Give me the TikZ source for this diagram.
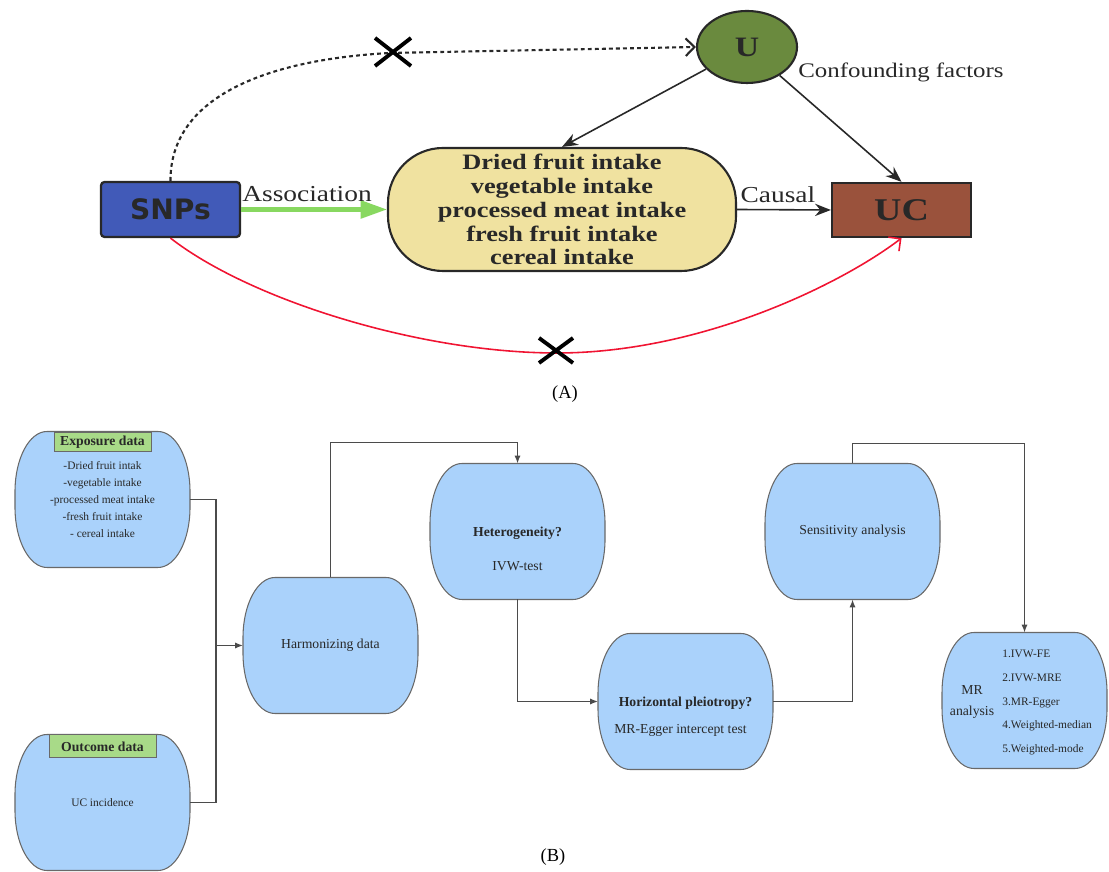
\documentclass[tikz,border=0pt]{standalone}
\usepackage{fontspec}
\setmainfont{Liberation Serif}
\newfontfamily\wideserif[FakeStretch=1.2]{Liberation Serif}
\newfontfamily\snpsfont{DejaVu Sans}
\usetikzlibrary{arrows.meta,shapes.geometric,backgrounds}

\definecolor{ink}{RGB}{40,40,40}
\definecolor{snpsblue}{RGB}{65,90,184}
\definecolor{ufill}{RGB}{106,138,62}
\definecolor{ucfill}{RGB}{154,82,60}
\definecolor{expfill}{RGB}{240,226,160}
\definecolor{assocgreen}{RGB}{136,216,96}
\definecolor{linkred}{RGB}{240,20,50}
\definecolor{boxblue}{RGB}{170,210,251}
\definecolor{boxline}{RGB}{105,105,105}
\definecolor{tagfill}{RGB}{168,218,136}
\definecolor{linkgray}{RGB}{75,75,75}

\newcommand{\stadium}[1]{%
  \filldraw[blobline] ([xshift=6.4mm]#1.north west) -- ([xshift=-6.4mm]#1.north east)
    arc[start angle=90,end angle=0,x radius=6.4mm,y radius=12mm]
    -- ([yshift=12mm]#1.south east)
    arc[start angle=0,end angle=-90,x radius=6.4mm,y radius=12mm]
    -- ([xshift=6.4mm]#1.south west)
    arc[start angle=270,end angle=180,x radius=6.4mm,y radius=12mm]
    -- ([yshift=-12mm]#1.north west)
    arc[start angle=180,end angle=90,x radius=6.4mm,y radius=12mm] -- cycle;}

\begin{document}
\begin{tikzpicture}[x=0.2mm,y=0.2mm,font=\fontsize{7.8}{9.5}\selectfont,
    blob/.style={minimum width=35mm,minimum height=27.2mm,inner sep=0pt,outer sep=0pt,align=center,text=ink},
    blobline/.style={fill=boxblue,draw=boxline,line width=0.6pt},
    tag/.style={draw=boxline,fill=tagfill,line width=0.5pt,inner sep=0pt,font=\bfseries\fontsize{7.8}{9}\selectfont,text=ink},
    small/.style={font=\fontsize{6.5}{9.8}\selectfont},
    link/.style={draw=linkgray,line width=0.7pt},
    tip/.style={-{Latex[length=4.5pt,width=3.5pt]}},
    dark/.style={ink,line width=0.9pt,-{Stealth[length=9pt,width=7pt]}},
    barb/.style={-{Straight Barb[length=5pt,width=10pt]}},
    wide/.style={font=\wideserif\fontsize{13}{14}\selectfont,text=ink}]
    \useasboundingbox (0,0) rectangle (1109,872);

    \node[draw=ink,line width=1.3pt,fill=snpsblue,rounded corners=2pt,minimum width=27.8mm,minimum height=11mm,
          font=\snpsfont\bfseries\fontsize{16}{16}\selectfont,text=ink] (snps) at (170.5,662.5) {SNPs};
    \node[draw=ink,line width=1.2pt,fill=expfill,rounded corners=11mm,minimum width=69.6mm,minimum height=24.6mm,
          inner sep=0pt,align=center,font=\wideserif\bfseries\fontsize{12.5}{13.6}\selectfont,text=ink] (exp) at (562,662.5)
          {Dried fruit intake\\vegetable intake\\processed meat intake\\fresh fruit intake\\cereal intake};
    \node[ellipse,draw=ink,line width=1.2pt,fill=ufill,minimum width=20mm,minimum height=14.4mm,inner sep=0pt,
          font=\wideserif\bfseries\fontsize{16}{16}\selectfont,text=ink] (u) at (747,825) {U};
    \node[draw=ink,line width=1.3pt,fill=ucfill,minimum width=27.8mm,minimum height=10.8mm,
          font=\wideserif\bfseries\fontsize{18}{18}\selectfont,text=ink] (uc) at (901.5,662) {UC};
    \node[wide,font=\wideserif\fontsize{11.8}{12}\selectfont] (conf) at (901,800) {Confounding factors};

    \draw[assocgreen,line width=2.3pt,-{Triangle[length=15pt,width=10pt]}] (snps.east) -- node[wide,above,xshift=-1.4mm] (assoc) {Association} (exp.west);
    \draw[dark] (exp.east) -- node[wide,above,xshift=-1.2mm] (causal) {Causal} (uc.west);
    \draw[dark] (u) -- (exp.north);
    \draw[dark] (u) -- (uc.north);

    \draw[ink,line width=1.2pt,dash pattern=on 2.2pt off 1.8pt,barb] (snps.north) .. controls (170,772) and (260,812) .. (390,819) -- (u.west);
    \draw[linkred,line width=0.9pt,barb] (snps.south) .. controls (250,572) and (420,519) .. (557,519)
        .. controls (700,519) and (840,587) .. (uc.south);
    \draw[line width=2.2pt] (375,834) -- (411,806) (375,806) -- (411,834);
    \draw[line width=2.2pt] (539,534) -- (573,509) (539,509) -- (573,534);

    \node[font=\fontsize{10.5}{12}\selectfont] (capa) at (565,478) {(A)};

    \node[blob,small] (expo) at (102.5,372.5) {-Dried fruit intak\\-vegetable intake\\-processed meat intake\\-fresh fruit intake\\- cereal intake};
    \node[blob,small] (outc) at (102.5,69.5) {UC incidence};
    \node[blob] (harm) at (330.5,226.5) {Harmonizing data};
    \node[blob] (hetero) at (517.5,340.5) {};
    \node[blob] (pleio) at (685.5,170.5) {};
    \node[blob] (sens) at (852.5,340.5) {Sensitivity analysis};
    \node[blob,minimum width=33mm] (mr) at (1024.5,171.5) {};
    \begin{scope}[on background layer]
        \foreach \b in {expo,outc,harm,hetero,pleio,sens,mr} {\stadium{\b}}
    \end{scope}

    \node[tag,minimum width=19.4mm,minimum height=3.8mm,anchor=north] (expotag) at ([yshift=-0.2mm]expo.north) {Exposure data};
    \node[tag,minimum width=21.4mm,minimum height=4.6mm,anchor=north] (outctag) at (outc.north) {Outcome data};
    \node[text=ink,font=\bfseries\fontsize{7.8}{9.5}\selectfont] (heteroq) at ([yshift=-0.3mm]hetero.center) {Heterogeneity?};
    \node[text=ink] (ivw) at ([yshift=-6.9mm]hetero.center) {IVW-test};
    \node[text=ink,font=\bfseries\fontsize{7.8}{9.5}\selectfont] (pleioq) at ([yshift=-0.3mm]pleio.center) {Horizontal pleiotropy?};
    \node[text=ink] (egger) at ([xshift=-1mm,yshift=-5.7mm]pleio.center) {MR-Egger intercept test};
    \node[text=ink,align=center,font=\fontsize{7.8}{11.5}\selectfont] (mrhead) at (972,170) {MR\\analysis};
    \node[text=ink,align=left,anchor=west,inner sep=0pt,font=\fontsize{6.5}{13.5}\selectfont] (mrlist) at (1002,169.5)
        {1.IVW-FE\\2.IVW-MRE\\3.MR-Egger\\4.Weighted-median\\5.Weighted-mode};

    \coordinate (jn) at ([xshift=-5.4mm]harm.west);
    \draw[link] (expo.east) -| (jn);
    \draw[link] (outc.east) -| (jn);
    \draw[link,tip] (jn) -- (harm.west);
    \draw[link,tip] (harm.north) -- ++(0,135) -| (hetero.north);
    \draw[link,tip] (hetero.south) |- (pleio.west);
    \draw[link,tip] (pleio.east) -| (sens.south);
    \draw[link,tip] (sens.north) -- ++(0,20) -| (mr.north);

    \node[font=\fontsize{10.5}{12}\selectfont] (capb) at (553,15) {(B)};
\end{tikzpicture}
\end{document}
